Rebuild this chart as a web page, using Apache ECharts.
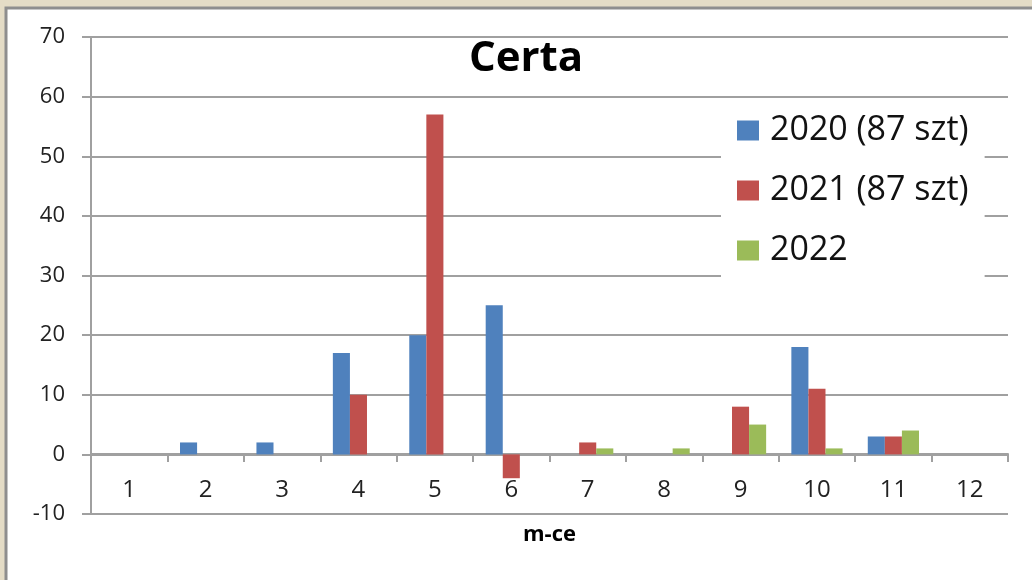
<!DOCTYPE html>
<html>
<head>
<meta charset="utf-8">
<script src="https://cdn.jsdelivr.net/npm/echarts@6/dist/echarts.min.js"></script>
<style>
  html, body { margin: 0; padding: 0; }
  #chart { width: 1032px; height: 580px; }
</style>
</head>
<body>
<div id="chart"></div>
<script>
const months = ['1', '2', '3', '4', '5', '6', '7', '8', '9', '10', '11', '12'];
const seriesNames = ['2020 (87 szt)', '2021 (87 szt)', '2022'];
const values2020 = [0, 2, 2, 17, 20, 25, 0, 0, 0, 18, 3, 0];
const values2021 = [0, 0, 0, 10, 57, -4, 2, 0, 8, 11, 3, 0];
const values2022 = [0, 0, 0, 0, 0, 0, 1, 1, 5, 1, 4, 0];
const colors = ['#4F81BD', '#C0504D', '#9BBB59'];

const chart = echarts.init(document.getElementById('chart'));

const font = '"Open Sans", sans-serif';

const option = {
    backgroundColor: '#e4dcc6',
    color: colors,
    animation: false,
    graphic: [{
        type: 'rect',
        z: -10,
        shape: { x: 6, y: 8, width: 1040, height: 600 },
        style: { fill: '#ffffff', stroke: '#8e8e8e', lineWidth: 3 }
    }],
    title: {
        text: 'Certa',
        left: 521,
        top: 33,
        textAlign: 'center',
        textStyle: { fontFamily: font, fontSize: 42, fontWeight: 'bold', color: '#000' }
    },
    legend: {
        orient: 'vertical',
        left: 721,
        top: 98,
        padding: [14, 16, 14, 16],
        backgroundColor: '#ffffff',
        itemWidth: 22,
        itemHeight: 20,
        itemGap: 23,
        icon: 'rect',
        textStyle: { fontFamily: font, fontSize: 34, lineHeight: 37, color: '#111', padding: [0, 0, 0, 6] },
        data: seriesNames
    },
    grid: { left: 91, right: 24, top: 37, bottom: 66, outerBoundsMode: 'none' },
    xAxis: {
        type: 'category',
        data: months,
        position: 'bottom',
        offset: -60,
        name: 'm-ce',
        nameLocation: 'middle',
        nameGap: 70,
        nameTextStyle: { fontFamily: font, fontSize: 22, fontWeight: 'bold', color: '#000' },
        axisLine: { onZero: false, lineStyle: { color: '#a0a0a0', width: 2 } },
        axisTick: { show: true, length: 8, lineStyle: { color: '#a0a0a0', width: 2 } },
        axisLabel: { fontFamily: font, fontSize: 24, color: '#222', margin: 24 }
    },
    yAxis: {
        type: 'value',
        min: -10,
        max: 70,
        interval: 10,
        axisLine: { show: true, lineStyle: { color: '#a0a0a0', width: 2 } },
        axisTick: { show: true, length: 9, lineStyle: { color: '#a0a0a0', width: 2 } },
        axisLabel: { fontFamily: font, fontSize: 22, color: '#222', margin: 26 },
        splitLine: { lineStyle: { color: '#a0a0a0', width: 2 } }
    },
    series: [
        { name: seriesNames[0], type: 'bar', data: values2020, barGap: '0%', barCategoryGap: '33%' },
        { name: seriesNames[1], type: 'bar', data: values2021, barGap: '0%', barCategoryGap: '33%' },
        { name: seriesNames[2], type: 'bar', data: values2022, barGap: '0%', barCategoryGap: '33%' }
    ]
};

chart.setOption(option);
</script>
</body>
</html>
